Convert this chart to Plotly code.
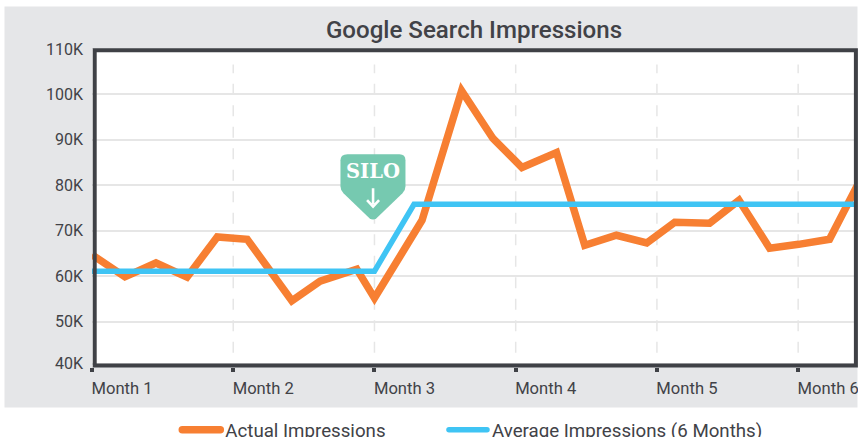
import plotly.graph_objects as go

title = "Google Search Impressions"
month_positions = [1, 2, 3, 4, 5, 6]
month_labels = ["Month 1", "Month 2", "Month 3", "Month 4", "Month 5", "Month 6"]
y_tick_values = [40684, 50000, 60000, 70000, 80000, 90000, 100000, 110000]
y_tick_labels = ["40K", "50K", "60K", "70K", "80K", "90K", "100K", "110K"]

actual_x = [1.0, 1.233, 1.453, 1.673, 1.887, 2.099, 2.415, 2.615, 2.875, 3.0, 3.337, 3.617,
            3.839, 4.044, 4.289, 4.489, 4.713, 4.928, 5.126, 5.373, 5.581, 5.798, 6.003,
            6.222, 6.42]
actual_y = [64700, 59850, 62900, 59780, 68630, 68120, 54580, 58900, 61540, 55170, 72300,
            100830, 90300, 83930, 87220, 66800, 69000, 67300, 71850, 71630, 76700, 66150,
            67000, 68120, 80000]
average_x = [1.0, 3.0, 3.28, 6.42]
average_y = [61100, 61100, 75800, 75800]

INK = "#414247"
BORDER = "#3F4146"
GRID = "#E6E6E6"
PANEL = "#E5E6E8"
ORANGE = "#F77F32"
BLUE = "#3FC4F4"
GREEN = "#76C9B0"

L, R, T, B = 91.6, 856.5, 48.5, 367.2
W, H = 858, 437


def px(v):
    return (v - L) / (R - L)


def py(v):
    return (B - v) / (B - T)


fig = go.Figure()
fig.add_trace(go.Scatter(x=actual_x, y=actual_y, mode="lines", name="Actual Impressions",
                         line=dict(color=ORANGE, width=7.5), legend="legend", showlegend=True))
fig.add_trace(go.Scatter(x=average_x, y=average_y, mode="lines",
                         name="Average Impressions (6 Months)",
                         line=dict(color=BLUE, width=5.5), legend="legend2", showlegend=True))

shapes = [
    dict(type="rect", xref="paper", yref="paper", x0=px(4), x1=px(858), y0=py(407.7), y1=py(6),
         fillcolor=PANEL, line_width=0, layer="below"),
    dict(type="rect", xref="paper", yref="paper", x0=0, x1=1, y0=0, y1=1,
         fillcolor="white", line_width=0, layer="below"),
]
for m in month_positions[1:]:
    shapes.append(dict(type="line", xref="x", yref="paper", x0=m, x1=m, y0=py(353), y1=py(64),
                       line=dict(color=GRID, width=1.5, dash="11px,10.5px"), layer="below"))
shapes.append(dict(type="rect", xref="paper", yref="paper", x0=px(94.3), x1=px(856.4),
                   y0=py(365.7), y1=py(49.7), line=dict(color=BORDER, width=4),
                   fillcolor="rgba(0,0,0,0)", layer="above"))
shapes.append(dict(type="path", xref="x", yref="y", xsizemode="pixel", ysizemode="pixel",
                   xanchor=3, yanchor=60000,
                   path="M -27,122 L 25,122 Q 31,122 31,116 L 31,90 Q 31,86 28,83 "
                        "L 2,58 Q -1.4,55.5 -5,58 L -31,83 Q -34,86 -34,90 L -34,116 "
                        "Q -34,122 -27,122 Z",
                   fillcolor=GREEN, line_width=0, layer="above"))
shapes.append(dict(type="path", xref="x", yref="y", xsizemode="pixel", ysizemode="pixel",
                   xanchor=3, yanchor=60000,
                   path="M -1.4,88 L -1.4,72 M -7.4,76 L -1.4,69.5 L 4.6,76",
                   line=dict(color="white", width=2.6), layer="above"))

legend_style = dict(orientation="h", xanchor="left", y=py(411.5), yanchor="top", itemwidth=38,
                    font=dict(family="Roboto", size=18.7, color=INK), bgcolor="rgba(0,0,0,0)",
                    visible=True)

fig.update_layout(
    width=W, height=H,
    showlegend=True,
    margin=dict(l=L, r=W - R, t=T, b=H - B, pad=0, autoexpand=False),
    paper_bgcolor="white", plot_bgcolor="white",
    font=dict(family="Roboto", size=16, color=INK),
    title=dict(text=title, x=474 / W, xanchor="center", y=1 - 30 / H, yanchor="middle",
               yref="container", font=dict(family="Roboto", size=24.1, weight=500, color=INK)),
    shapes=shapes,
    xaxis=dict(range=[1, 1 + (R - L) / 141.4], tickmode="array", tickvals=month_positions,
               ticktext=month_labels, showgrid=False, zeroline=False, ticks="outside", ticklen=4,
               tickwidth=3.5, tickcolor=BORDER, ticklabelshift=30, ticklabelstandoff=2,
               ticklabeloverflow="allow",
               tickfont=dict(family="Roboto", size=16.6, color=INK)),
    yaxis=dict(range=[40000, 110000], tickmode="array", tickvals=y_tick_values,
               ticktext=y_tick_labels, showgrid=True, gridcolor=GRID, gridwidth=1.5,
               zeroline=False, ticks="", ticklabelstandoff=8,
               tickfont=dict(family="Roboto", size=16, color=INK)),
    legend=dict(x=px(177), **legend_style),
    legend2=dict(x=px(444), **legend_style),
    annotations=[dict(text="SILO", xref="x", yref="y", x=3, y=60000, xshift=-1.4, yshift=105,
                      showarrow=False, xanchor="center", yanchor="middle",
                      font=dict(family="DejaVu Serif", size=19.5, weight="bold", color="white"))],
)

css = (".scatterlayer .js-line{stroke-linejoin:miter!important;stroke-miterlimit:6!important}"
       ".legendlines path{stroke-linecap:round!important}body{margin:0;overflow:hidden}")
post = ("var s=document.createElement('style');s.textContent=" + repr(css) + ";"
        "document.head.appendChild(s);")
fig.write_html("out.html", post_script=post, config=dict(displayModeBar=False))
